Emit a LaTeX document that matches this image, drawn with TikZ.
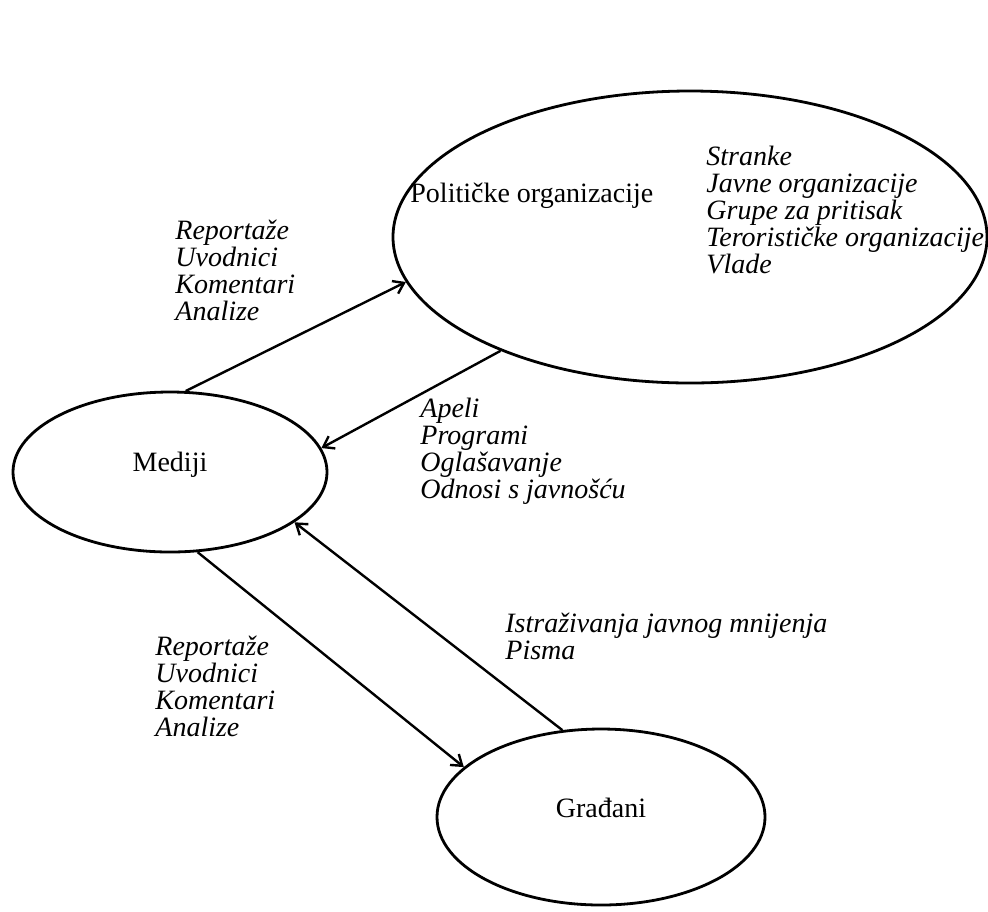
\documentclass[tikz,border=0pt]{standalone}
\usepackage{fontspec}
\setmainfont{Liberation Serif}
\usetikzlibrary{positioning,shapes.geometric,arrows.meta}

\begin{document}
\begin{tikzpicture}[
    x=0.5pt, y=-0.5pt,
    actor/.style={
        ellipse, draw, line width=1.4pt, inner sep=0pt,
        font=\fontsize{14}{13.5}\selectfont
    },
    items/.style={
        font=\fontsize{14}{13.5}\selectfont\itshape,
        align=left, inner sep=0pt, anchor=west
    },
    flow/.style={-{Straight Barb[length=5pt,width=7pt]}, line width=1.2pt}
]
\useasboundingbox (0,0) rectangle (988,911);

%% Actors
\node[actor, minimum width=297pt, minimum height=146pt] (pol) at (690,237) {};
\node[actor, minimum width=157pt, minimum height=80pt]  (med) at (170,472) {};
\node[actor, minimum width=164pt, minimum height=88pt]  (gra) at (601,817) {};

\node[font=\fontsize{14}{13.5}\selectfont] (medtxt) at (170,465) {Mediji};
\node[font=\fontsize{14}{13.5}\selectfont] (gratxt) at (601,808) {Građani};
\node[font=\fontsize{14}{13.5}\selectfont, anchor=west, inner sep=0pt]
    (poltxt) at (410,196) {Političke organizacije};

%% Item lists
\node[items] (politems) at (706,210) {Stranke\\
    Javne organizacije\\
    Grupe za pritisak\\
    Terorističke organizacije\\
    Vlade};
\node[items] (medpol) at (175,270) {Reportaže\\ Uvodnici\\ Komentari\\ Analize};
\node[items] (polmed) at (420,451) {Apeli\\ Programi\\ Oglašavanje\\ Odnosi s javnošću};
\node[items] (medgra) at (155,686) {Reportaže\\ Uvodnici\\ Komentari\\ Analize};
\node[items] (gramed) at (505,636) {Istraživanja javnog mnijenja\\ Pisma};

%% Flows
\draw[flow] (med.79)  -- (pol.189);
\draw[flow] (pol.211) -- (med.9);
\draw[flow] (med.-71) -- (gra.160);
\draw[flow] (gra.114) -- (med.-22);

\end{tikzpicture}
\end{document}
